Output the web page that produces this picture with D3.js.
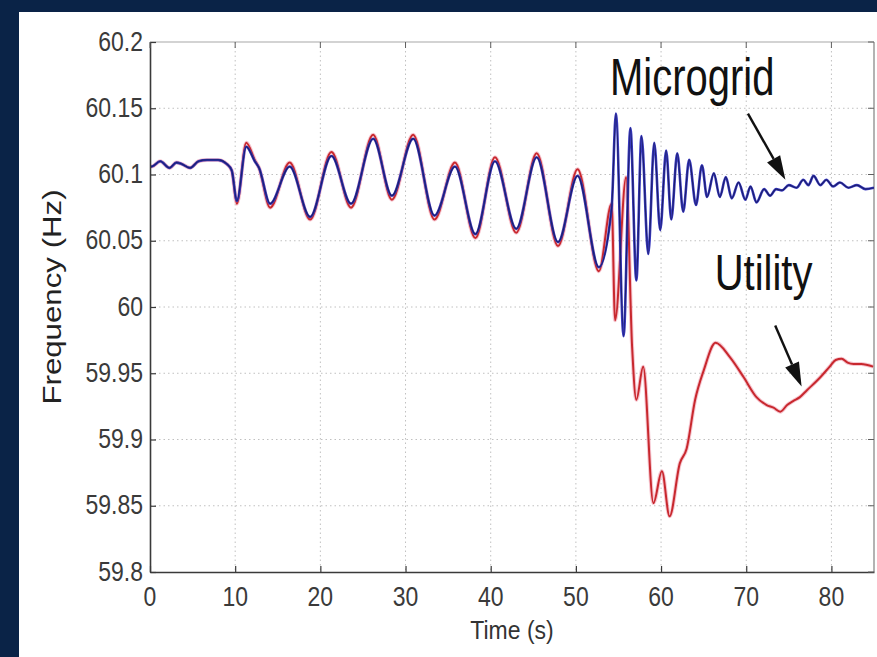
<!DOCTYPE html>
<html>
<head>
<meta charset="utf-8">
<script src="https://cdn.jsdelivr.net/npm/d3@7"></script>
<style>
  html, body { margin: 0; padding: 0; background: #0a2347; }
  svg { display: block; }
  text { font-family: "Liberation Sans", Arial, Helvetica, sans-serif; }
</style>
</head>
<body>
<svg id="chart" width="877" height="657"></svg>
<script>
// ---------------- DATA ----------------
const timeTicks = [0, 10, 20, 30, 40, 50, 60, 70, 80];
const freqTicks = [59.8, 59.85, 59.9, 59.95, 60, 60.05, 60.1, 60.15, 60.2];
const freqTickLabels = ["59.8", "59.85", "59.9", "59.95", "60", "60.05", "60.1", "60.15", "60.2"];

// Microgrid frequency [time (s), frequency (Hz)]
const microgrid = [
  [0, 60.106], [0.2, 60.106], [1.2, 60.11], [2.3, 60.105], [3.1, 60.109], [3.7, 60.108],
  [4.7, 60.105], [5.7, 60.11], [6.7, 60.111], [8.0, 60.111], [9.0, 60.108], [9.6, 60.103],
  [10.2, 60.080], [11.3, 60.121], [12.3, 60.110], [12.8, 60.105], [14.1, 60.078],
  [16.4, 60.106], [18.8, 60.068], [21.3, 60.114], [23.6, 60.078], [26.2, 60.127],
  [28.4, 60.084], [30.9, 60.127], [33.4, 60.069], [35.8, 60.106], [38.2, 60.055],
  [40.5, 60.110], [43.0, 60.059], [45.4, 60.113], [47.9, 60.049], [50.2, 60.099],
  [52.7, 60.030], [54.2, 60.075], [54.7, 60.146], [55.6, 59.978], [56.4, 60.135],
  [57.1, 60.020], [57.7, 60.129], [58.5, 60.040], [59.2, 60.124], [59.9, 60.058],
  [60.6, 60.118], [61.2, 60.066], [61.9, 60.116], [62.6, 60.072], [63.3, 60.111],
  [64.1, 60.077], [64.8, 60.107], [65.4, 60.083], [66.2, 60.101], [66.9, 60.083],
  [67.6, 60.098], [68.3, 60.082], [69.1, 60.094], [69.9, 60.081], [70.5, 60.091],
  [71.2, 60.079], [72.1, 60.089], [72.8, 60.084], [73.5, 60.089], [74.2, 60.088],
  [75.0, 60.092], [75.9, 60.090], [76.7, 60.096], [77.3, 60.092], [77.9, 60.099],
  [78.7, 60.092], [79.4, 60.096], [80.2, 60.091], [81.0, 60.094], [82.0, 60.090],
  [83.0, 60.092], [84.0, 60.089], [85.0, 60.090]
];

// Utility frequency [time (s), frequency (Hz)]
const utility = [
  [0, 60.106], [0.2, 60.106], [1.2, 60.11], [2.3, 60.105], [3.1, 60.109], [3.7, 60.108],
  [4.7, 60.105], [5.7, 60.11], [6.7, 60.111], [8.0, 60.111], [9.0, 60.108], [9.6, 60.103],
  [10.2, 60.078], [11.3, 60.124], [12.3, 60.111], [12.8, 60.105], [14.1, 60.075],
  [16.4, 60.109], [18.8, 60.066], [21.3, 60.117], [23.6, 60.075], [26.2, 60.130],
  [28.4, 60.081], [30.9, 60.130], [33.4, 60.066], [35.8, 60.109], [38.2, 60.052],
  [40.5, 60.113], [43.0, 60.056], [45.4, 60.116], [47.9, 60.046], [50.2, 60.104],
  [52.7, 60.027], [54.2, 60.078], [54.6, 59.990], [55.9, 60.098], [56.6, 59.970],
  [57.1, 59.930], [57.9, 59.955], [59.1, 59.852], [60.1, 59.876], [61.0, 59.842],
  [62.2, 59.882], [63.0, 59.893], [64.0, 59.930], [65.0, 59.952], [66.4, 59.973],
  [68.1, 59.962], [69.7, 59.947], [71.2, 59.932], [72.4, 59.926], [73.2, 59.924],
  [74.0, 59.921], [74.8, 59.926], [75.5, 59.929], [76.3, 59.932], [77.1, 59.937],
  [78.7, 59.947], [79.8, 59.955], [80.5, 59.960], [81.2, 59.961], [81.9, 59.958],
  [82.6, 59.957], [83.5, 59.957], [84.9, 59.955]
];

// Annotations [time, frequency]
const microgridLabel = { text: "Microgrid", at: [54.0, 60.160], from: [70.2, 60.146], to: [74.6, 60.096] };
const utilityLabel = { text: "Utility", at: [66.3, 60.013], from: [73.4, 59.986], to: [76.5, 59.940] };

// ---------------- LAYOUT ----------------
const svg = d3.select("#chart");
const W = 877, H = 657;
const plot = { left: 150, right: 874, top: 42, bottom: 572 };

svg.append("rect").attr("x", 19).attr("y", 12).attr("width", W - 19).attr("height", H - 12).attr("fill", "#ffffff");

const x = d3.scaleLinear().domain([0, 85]).range([plot.left, plot.right]);
const y = d3.scaleLinear().domain([59.8, 60.2]).range([plot.bottom, plot.top]);

// grid
const grid = svg.append("g");
grid.selectAll("line.gx").data(timeTicks.slice(1)).join("line")
  .attr("x1", d => x(d)).attr("x2", d => x(d)).attr("y1", plot.top).attr("y2", plot.bottom)
  .attr("stroke", "#c0c0c0").attr("stroke-width", 1).attr("stroke-dasharray", "1.5,3");
grid.selectAll("line.gy").data(freqTicks.slice(1, -1)).join("line")
  .attr("x1", plot.left).attr("x2", plot.right).attr("y1", d => y(d)).attr("y2", d => y(d))
  .attr("stroke", "#c0c0c0").attr("stroke-width", 1).attr("stroke-dasharray", "1.5,3");

// box top/right (light)
svg.append("line").attr("x1", plot.left).attr("x2", plot.right).attr("y1", plot.top).attr("y2", plot.top)
  .attr("stroke", "#a8a8a8").attr("stroke-width", 1.2);
svg.append("line").attr("x1", plot.right).attr("x2", plot.right).attr("y1", plot.top).attr("y2", plot.bottom)
  .attr("stroke", "#808080").attr("stroke-width", 1.2);

// clip
svg.append("clipPath").attr("id", "clip").append("rect")
  .attr("x", plot.left).attr("y", plot.top).attr("width", plot.right - plot.left).attr("height", plot.bottom - plot.top);

const line = d3.line().x(d => x(d[0])).y(d => y(d[1])).curve(d3.curveMonotoneX);
const lines = svg.append("g").attr("clip-path", "url(#clip)");
lines.append("path").datum(utility).attr("d", line).attr("fill", "none")
  .attr("stroke", "#f0a0b0").attr("stroke-width", 4).attr("stroke-opacity", 0.6).attr("stroke-linejoin", "round");
lines.append("path").datum(utility).attr("d", line).attr("fill", "none")
  .attr("stroke", "#c8282e").attr("stroke-width", 2).attr("stroke-linejoin", "round");
lines.append("path").datum(microgrid).attr("d", line).attr("fill", "none")
  .attr("stroke", "#3a3ac0").attr("stroke-width", 2.6).attr("stroke-linejoin", "round");
lines.append("path").datum(microgrid).attr("d", line).attr("fill", "none")
  .attr("stroke", "#1c1f6e").attr("stroke-width", 1.2).attr("stroke-linejoin", "round");

// axes (MATLAB style, inward ticks)
const xAxis = d3.axisBottom(x).tickValues(timeTicks).tickSizeInner(-6).tickSizeOuter(0).tickFormat("");
const yAxis = d3.axisLeft(y).tickValues(freqTicks).tickSizeInner(-6).tickSizeOuter(0).tickFormat("");
const gx = svg.append("g").attr("transform", `translate(0,${plot.bottom})`).call(xAxis);
const gy = svg.append("g").attr("transform", `translate(${plot.left},0)`).call(yAxis);
[gx, gy].forEach(g => {
  g.select(".domain").attr("stroke", "#3a3a3a").attr("stroke-width", 1.6);
  g.selectAll(".tick line").attr("stroke", "#3a3a3a").attr("stroke-width", 1.2);
});
// top/right inward ticks
svg.append("g").selectAll("line").data(timeTicks).join("line")
  .attr("x1", d => x(d)).attr("x2", d => x(d)).attr("y1", plot.top).attr("y2", plot.top + 6)
  .attr("stroke", "#606060");
svg.append("g").selectAll("line").data(freqTicks).join("line")
  .attr("x1", plot.right).attr("x2", plot.right - 6).attr("y1", d => y(d)).attr("y2", d => y(d))
  .attr("stroke", "#606060");

// text helper with vertical stretch
function stretchedText(px, py, str, opts) {
  const g = svg.append("g").attr("transform", `translate(${px},${py}) ${opts.rotate ? "scale(1," + opts.sy + ") rotate(-90)" : "scale(" + (opts.sx || 1) + "," + opts.sy + ")"}`);
  const t = g.append("text").text(str)
    .attr("font-size", opts.size).attr("fill", opts.fill || "#333")
    .attr("text-anchor", opts.anchor || "start");
  return t;
}

// tick labels
freqTicks.forEach((v, i) => {
  stretchedText(plot.left - 7, y(v) + 8.5, freqTickLabels[i], { size: 23, sy: 1.18, anchor: "end", fill: "#3a3a3a" });
});
timeTicks.forEach(v => {
  stretchedText(x(v), 606, String(v), { size: 23, sy: 1.2, anchor: "middle", fill: "#3a3a3a" });
});

// axis titles
stretchedText(512, 639, "Time (s)", { size: 23, sy: 1.15, anchor: "middle", fill: "#333" });
stretchedText(61, 297, "Frequency (Hz)", { size: 25, sy: 1.25, rotate: true, anchor: "middle", fill: "#222" });

// annotations
function arrow(a) {
  const x1 = x(a.from[0]), y1 = y(a.from[1]), x2 = x(a.to[0]), y2 = y(a.to[1]);
  const ang = Math.atan2(y2 - y1, x2 - x1);
  const L = 24, Wd = 7.5;
  const bx = x2 - L * Math.cos(ang), by = y2 - L * Math.sin(ang);
  svg.append("line").attr("x1", x1).attr("y1", y1).attr("x2", bx).attr("y2", by)
    .attr("stroke", "#111").attr("stroke-width", 2.4);
  const px = -Math.sin(ang), py = Math.cos(ang);
  svg.append("path")
    .attr("d", `M${x2},${y2}L${bx + px * Wd},${by + py * Wd}L${bx - px * Wd},${by - py * Wd}Z`)
    .attr("fill", "#111");
}
arrow(microgridLabel);
arrow(utilityLabel);
stretchedText(x(microgridLabel.at[0]), y(microgridLabel.at[1]), microgridLabel.text, { size: 40, sy: 1.3, fill: "#111" });
stretchedText(x(utilityLabel.at[0]), y(utilityLabel.at[1]), utilityLabel.text, { size: 40, sy: 1.25, fill: "#111" });
</script>
</body>
</html>
